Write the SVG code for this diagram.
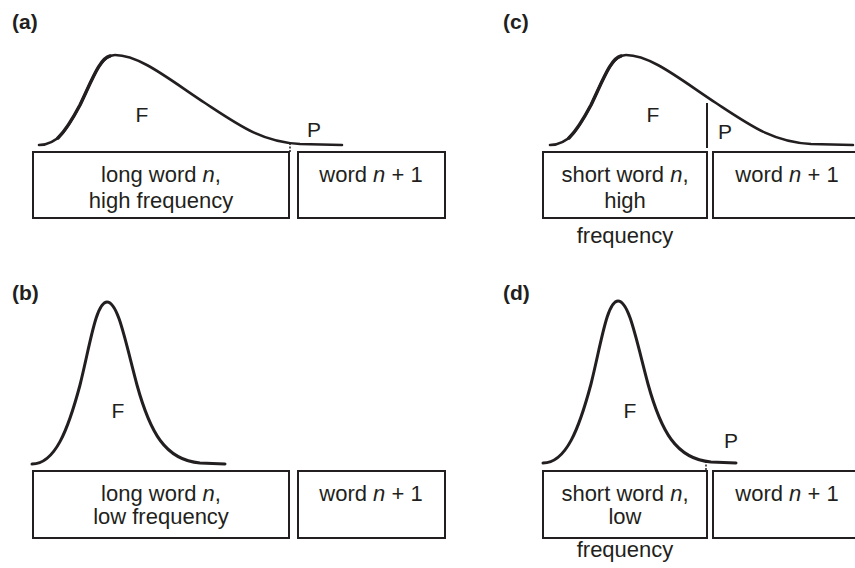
<svg xmlns="http://www.w3.org/2000/svg" width="855" height="568" viewBox="0 0 855 568">
<style>
.lbl{font-family:"Liberation Sans",Arial,sans-serif;font-weight:bold;font-size:21px;fill:#231f20}
.t{font-family:"Liberation Sans",Arial,sans-serif;font-size:22px;fill:#231f20;text-anchor:middle}
.fp{font-family:"Liberation Sans",Arial,sans-serif;font-size:21px;fill:#231f20;text-anchor:middle}
.box{fill:#fff;stroke:#231f20;stroke-width:2}
.curve{fill:none;stroke:#231f20;stroke-width:2.6;stroke-linecap:round;stroke-linejoin:round}
.rise{fill:none;stroke:#231f20;stroke-width:3.4;stroke-linecap:round}
.tick{fill:none;stroke:#231f20;stroke-width:1.5;stroke-dasharray:2 1.5}
.sep{fill:none;stroke:#231f20;stroke-width:2}
</style>
<defs>
<path id="skew" d="M39,145 C58,145 68,128 80,105 C92,80 100,55 115,55 C140,55 170,80 205,103 C240,126 262,142 300,144 L342,145"/>
<path id="skewrise" d="M58,138 C66,130 72,120 80,105 C92,80 100,58 110,56"/>
<path id="gauss" d="M32,464 C55,464 68,430 80,385 C90,345 96,302 107,302 C118,302 125,340 137,385 C150,432 165,460 200,463 L225,464"/>
</defs>

<g id="panel-a">
<text class="lbl" x="12" y="29">(a)</text>
<use href="#skew" class="curve"/>
<use href="#skewrise" class="rise"/>
<text class="fp" x="142" y="122">F</text>
<text class="fp" x="314" y="137">P</text>
<line class="tick" x1="290" y1="143" x2="290" y2="152"/>
<g id="a-word-n"><rect class="box" x="33" y="152" width="256" height="66"/>
<text class="t" x="161" y="182">long word <tspan font-style="italic">n</tspan>,</text>
<text class="t" x="161" y="208">high frequency</text></g>
<g id="a-word-n1"><rect class="box" x="298" y="152" width="147" height="66"/>
<text class="t" x="371" y="182">word <tspan font-style="italic">n</tspan> + 1</text></g>
</g>

<g id="panel-c">
<text class="lbl" x="503" y="29">(c)</text>
<use href="#skew" class="curve" transform="translate(511,0)"/>
<use href="#skewrise" class="rise" transform="translate(511,0)"/>
<line class="sep" x1="707" y1="103" x2="707" y2="148"/>
<text class="fp" x="653" y="122">F</text>
<text class="fp" x="725" y="139">P</text>
<g id="c-word-n"><rect class="box" x="543" y="152" width="164" height="66"/>
<text class="t" x="625" y="182">short word <tspan font-style="italic">n</tspan>,</text>
<text class="t" x="625" y="208">high</text>
<text class="t" x="625" y="243">frequency</text></g>
<g id="c-word-n1"><rect class="box" x="713" y="152" width="147" height="66"/>
<text class="t" x="787" y="182">word <tspan font-style="italic">n</tspan> + 1</text></g>
</g>

<g id="panel-b">
<text class="lbl" x="12" y="300">(b)</text>
<use href="#gauss" class="curve" style="stroke-width:3"/>
<text class="fp" x="118" y="418">F</text>
<g id="b-word-n"><rect class="box" x="33" y="471" width="256" height="67"/>
<text class="t" x="161" y="501">long word <tspan font-style="italic">n</tspan>,</text>
<text class="t" x="161" y="524">low frequency</text></g>
<g id="b-word-n1"><rect class="box" x="298" y="471" width="147" height="67"/>
<text class="t" x="371" y="501">word <tspan font-style="italic">n</tspan> + 1</text></g>
</g>

<g id="panel-d">
<text class="lbl" x="503" y="300">(d)</text>
<use href="#gauss" class="curve" style="stroke-width:3" transform="translate(511,-1)"/>
<line class="tick" x1="706" y1="461" x2="706" y2="471"/>
<text class="fp" x="630" y="418">F</text>
<text class="fp" x="731" y="448">P</text>
<g id="d-word-n"><rect class="box" x="543" y="471" width="164" height="67"/>
<text class="t" x="625" y="501">short word <tspan font-style="italic">n</tspan>,</text>
<text class="t" x="625" y="524">low</text>
<text class="t" x="625" y="557">frequency</text></g>
<g id="d-word-n1"><rect class="box" x="713" y="471" width="147" height="67"/>
<text class="t" x="787" y="501">word <tspan font-style="italic">n</tspan> + 1</text></g>
</g>
</svg>
